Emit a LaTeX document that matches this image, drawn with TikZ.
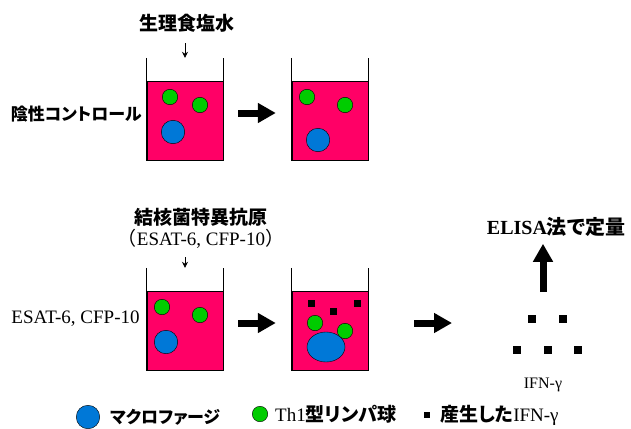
\documentclass[tikz,border=0pt]{standalone}
\usepackage{fontspec}
\setmainfont{Liberation Serif}
\newfontfamily\jpfont{Noto Sans CJK JP}
\newfontfamily\jpprop{Noto Sans CJK JP}[RawFeature={+palt}]
\newcommand\gothic{\jpprop\bfseries}
\usepackage{tikz}
\usetikzlibrary{arrows.meta, positioning, shapes.geometric}
\definecolor{liquidpink}{RGB}{255,0,102}
\definecolor{thgreen}{RGB}{0,204,0}
\definecolor{macroblue}{RGB}{0,120,215}

\begin{document}
\begin{tikzpicture}[x=1pt, y=-1pt, thin, font=\fontsize{19}{21}\selectfont]
            \tikzset{
                beaker/.style={minimum width=76pt, minimum height=102pt, inner sep=0pt},
                medium/.style={fill=liquidpink, draw=black, line width=0.6pt},
                thcell/.style={circle, draw=black, fill=thgreen, inner sep=0pt, minimum size=15.5pt},
                macro/.style={circle, draw=black, fill=macroblue, inner sep=0pt, minimum size=23.5pt},
                ifn/.style={fill=black, inner sep=0pt, minimum size=7pt},
                pour/.style={-{Stealth[length=6pt,width=6pt]}, line width=0.8pt},
                bigarrow/.style={-{Triangle[length=18pt,width=19pt]}, line width=7pt},
                jplabel/.style={font=\fontsize{19}{21}\selectfont\gothic, inner sep=1pt},
                kanalabel/.style={font=\fontsize{17}{19}\selectfont\gothic, inner sep=1pt}
            }
            \useasboundingbox (0,0) rectangle (631,428);

            % the four culture wells
            \node[beaker] (w1) at (185,109) {};
            \node[beaker] (w2) at (330,109) {};
            \node[beaker] (w3) at (185,319) {};
            \node[beaker] (w4) at (330,319) {};
            \foreach \w in {w1,w2,w3,w4} {
                \draw[medium] (\w.south west) rectangle ([yshift=79pt]\w.south east);
                \draw[line width=0.8pt] (\w.north west) -- (\w.south west) -- (\w.south east) -- (\w.north east);
            }

            % negative control
            \node[thcell] (g1) at (170,97) {};
            \node[thcell] (g2) at (200,105) {};
            \node[macro] (m1) at (173,132) {};
            \node[thcell] (g3) at (307,97) {};
            \node[thcell] (g4) at (345,105) {};
            \node[macro] (m2) at (318,140) {};

            % antigen stimulation
            \node[thcell] (g5) at (162,307) {};
            \node[thcell] (g6) at (200,315) {};
            \node[macro] (m3) at (166,342) {};
            \node[ifn] (s1) at (311,303) {};
            \node[ifn] (s2) at (333,311) {};
            \node[ifn] (s3) at (357,303) {};
            \node[thcell] (g7) at (315,323) {};
            \node[thcell] (g8) at (345,331) {};
            \node[ellipse, draw=black, fill=macroblue, inner sep=0pt,
                  minimum width=38pt, minimum height=30pt] (m4) at (326,347) {};

            % released IFN-gamma
            \coordinate (pool) at (543,323);
            \node[ifn, minimum size=8pt] (p1) at (532,319) {};
            \node[ifn, minimum size=8pt] (p2) at (563,319) {};
            \node[ifn, minimum size=8pt] (p3) at (517,350) {};
            \node[ifn, minimum size=8pt] (p4) at (548,350) {};
            \node[ifn, minimum size=8pt] (p5) at (578,350) {};
            \node (ifnlabel) at (543,385) {\fontsize{16}{18}\selectfont IFN-γ};

            % labels
            \node[jplabel] (saline) at (187,23) {生理食塩水};
            \node[kanalabel, left=4pt of w1, yshift=-5pt] (neg) {陰性コントロール};
            \node[align=center, inner sep=1pt] (antigen) at (201,228)
                {{\gothic 結核菌特異抗原}\\{\jpfont （}ESAT-6, CFP-10{\jpfont ）}};
            \node[inner sep=1pt, left=6pt of w3] (esat) {ESAT-6, CFP-10};
            \node[inner sep=1pt] (elisa) at (556,227)
                {\fontsize{20}{22}\selectfont\textbf{ELISA}{\gothic 法で定量}};

            % arrows
            \draw[pour, shorten <=10pt] (saline.south -| w1.north) -- (w1.north);
            \draw[pour, shorten <=8pt] (antigen.south -| w3.north) -- (w3.north);
            \draw[bigarrow, shorten <=15pt, shorten >=16pt] ([yshift=-4pt]w1.east) -- ([yshift=-4pt]w2.west);
            \draw[bigarrow, shorten <=15pt, shorten >=16pt] ([yshift=-4pt]w3.east) -- ([yshift=-4pt]w4.west);
            \draw[bigarrow, shorten <=46pt, shorten >=91pt] ([yshift=-4pt]w4.east) -- (pool);
            \draw[bigarrow, shorten <=31pt, shorten >=6pt] (pool) -- (pool |- elisa.south);

            % legend
            \node[macro] (lmac) at (88,417) {};
            \node[kanalabel, right=9pt of lmac] (lmactxt) {マクロファージ};
            \node[thcell] (lth) at (260,414) {};
            \node[inner sep=1pt, right=6pt of lth] (lthtxt) {Th1{\gothic 型リンパ球}};
            \node[ifn, minimum size=6pt] (lifn) at (427,415) {};
            \node[inner sep=1pt, right=9pt of lifn] (lifntxt) {{\gothic 産生した}IFN-γ};
        \end{tikzpicture}
\end{document}
